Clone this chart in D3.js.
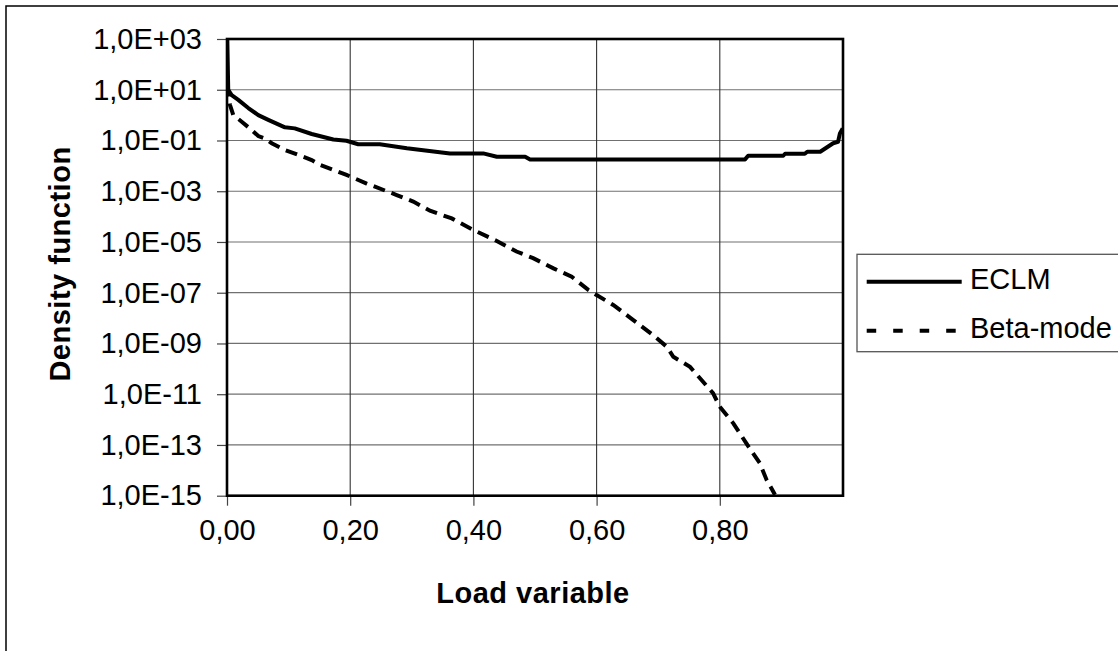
<!DOCTYPE html>
<html>
<head>
<meta charset="utf-8">
<script src="https://cdn.jsdelivr.net/npm/d3@7"></script>
<style>
  body { margin: 0; background: #fff; }
  text { font-family: Arial, "Liberation Sans", sans-serif; }
</style>
</head>
<body>
<script>
// data
const eclmX = [0.0005, 0.002, 0.0076, 0.0183, 0.0346, 0.0508, 0.067, 0.094, 0.11, 0.1375, 0.1726, 0.194, 0.213, 0.248, 0.292, 0.362, 0.416, 0.438, 0.484, 0.492, 0.841, 0.846, 0.903, 0.906, 0.938, 0.942, 0.963, 0.984, 0.992, 0.995, 0.9995];
const eclmY = [1.0e3, 9.8e0, 6.2e0, 4.0e0, 1.9e0, 1.0e0, 6.5e-1, 3.3e-1, 3.0e-1, 1.8e-1, 1.1e-1, 9.8e-2, 7.1e-2, 7.1e-2, 4.9e-2, 3.1e-2, 3.1e-2, 2.3e-2, 2.3e-2, 1.8e-2, 1.8e-2, 2.5e-2, 2.5e-2, 3.0e-2, 3.0e-2, 3.6e-2, 3.6e-2, 7.8e-2, 8.9e-2, 1.9e-1, 3.0e-1];

const betaX = [0.0008, 0.0049, 0.0102, 0.0239, 0.04, 0.0508, 0.0617, 0.0726, 0.094, 0.1157, 0.1375, 0.151, 0.194, 0.2268, 0.2755, 0.3024, 0.3295, 0.3648, 0.397, 0.438, 0.47, 0.497, 0.53, 0.5596, 0.5865, 0.6, 0.627, 0.6596, 0.692, 0.714, 0.7245, 0.7516, 0.789, 0.8, 0.822, 0.8437, 0.865, 0.876, 0.8896];
const betaY = [1.6e1, 2.5e0, 1.0e0, 5.5e-1, 2.6e-1, 1.5e-1, 1.2e-1, 7.8e-2, 4.2e-2, 2.7e-2, 1.7e-2, 1.1e-2, 4.4e-3, 2.0e-3, 7.1e-4, 3.9e-4, 1.7e-4, 8.5e-5, 3.2e-5, 1.1e-5, 4.2e-6, 2.3e-6, 9.1e-7, 4.3e-7, 1.3e-7, 8.1e-8, 3.3e-8, 8.3e-9, 2.1e-9, 7.4e-10, 3.0e-10, 1.2e-10, 1.1e-11, 3.2e-12, 7.1e-13, 1.1e-13, 1.9e-14, 4.2e-15, 1.1e-15];

const xTicks = [0, 0.2, 0.4, 0.6, 0.8];
const yTicks = [1e3, 1e1, 1e-1, 1e-3, 1e-5, 1e-7, 1e-9, 1e-11, 1e-13, 1e-15];
const seriesNames = ["ECLM", "Beta-mode"];

const W = 1118, H = 651;
const plot = { left: 227, top: 39, right: 843, bottom: 495.7 };

const x = d3.scaleLinear().domain([0, 1]).range([plot.left, plot.right]);
const y = d3.scaleLog().domain([1e-15, 1e3]).range([plot.bottom, plot.top]);

const svg = d3.select("body").append("svg")
  .attr("width", W)
  .attr("height", H);

// outer chart frame (runs off the right and bottom edge)
svg.append("rect")
  .attr("x", 6).attr("y", 6)
  .attr("width", W + 20).attr("height", H + 20)
  .attr("fill", "#fff")
  .attr("stroke", "#000")
  .attr("stroke-width", 1.5);

// grid
svg.append("g")
  .selectAll("line")
  .data(yTicks.slice(1, -1))
  .join("line")
  .attr("x1", plot.left).attr("x2", plot.right)
  .attr("y1", d => y(d)).attr("y2", d => y(d))
  .attr("stroke", "#707070")
  .attr("stroke-width", 1.2);

svg.append("g")
  .selectAll("line")
  .data(xTicks.slice(1))
  .join("line")
  .attr("x1", d => x(d)).attr("x2", d => x(d))
  .attr("y1", plot.top).attr("y2", plot.bottom)
  .attr("stroke", "#333")
  .attr("stroke-width", 1.1);

// axes
const fmtX = d => d3.format(".2f")(d).replace(".", ",");
const fmtY = d => {
  const e = Math.round(Math.log10(d));
  return "1,0E" + (e < 0 ? "-" : "+") + String(Math.abs(e)).padStart(2, "0");
};

const xAxis = svg.append("g")
  .attr("transform", "translate(0," + plot.bottom + ")")
  .call(d3.axisBottom(x).tickValues(xTicks).tickFormat(fmtX).tickSize(10).tickPadding(14));

const yAxis = svg.append("g")
  .attr("transform", "translate(" + plot.left + ",0)")
  .call(d3.axisLeft(y).tickValues(yTicks).tickFormat(fmtY).tickSize(10).tickPadding(15));

[xAxis, yAxis].forEach(function(g) {
  g.select(".domain").remove();
  g.selectAll(".tick line").attr("stroke", "#444").attr("stroke-width", 1.2);
  g.selectAll(".tick text")
    .attr("fill", "#000")
    .style("font-size", "29px")
    .style("font-family", "Arial, 'Liberation Sans', sans-serif");
});

// clip for the curves
svg.append("clipPath").attr("id", "clip")
  .append("rect")
  .attr("x", plot.left).attr("y", plot.top)
  .attr("width", plot.right - plot.left)
  .attr("height", plot.bottom - plot.top);

const line = d3.line()
  .x(d => x(d[0]))
  .y(d => y(d[1]));

svg.append("path")
  .datum(d3.zip(betaX, betaY))
  .attr("clip-path", "url(#clip)")
  .attr("d", line)
  .attr("fill", "none")
  .attr("stroke", "#000")
  .attr("stroke-width", 4)
  .attr("stroke-dasharray", "12,7");

svg.append("path")
  .datum(d3.zip(eclmX, eclmY))
  .attr("clip-path", "url(#clip)")
  .attr("d", line)
  .attr("fill", "none")
  .attr("stroke", "#000")
  .attr("stroke-width", 4)
  .attr("stroke-linejoin", "round");

// plot border
svg.append("rect")
  .attr("x", plot.left).attr("y", plot.top)
  .attr("width", plot.right - plot.left)
  .attr("height", plot.bottom - plot.top)
  .attr("fill", "none")
  .attr("stroke", "#000")
  .attr("stroke-width", 2.6);

// axis titles
svg.append("text")
  .attr("x", 533)
  .attr("y", 603)
  .attr("text-anchor", "middle")
  .style("font-size", "29px")
  .style("font-weight", "bold")
  .style("letter-spacing", "0.5px")
  .text("Load variable");

svg.append("text")
  .attr("transform", "translate(70,264)rotate(-90)")
  .attr("text-anchor", "middle")
  .style("font-size", "29px")
  .style("font-weight", "bold")
  .style("letter-spacing", "0.5px")
  .text("Density function");

// legend
const legend = svg.append("g");
legend.append("rect")
  .attr("x", 857).attr("y", 254.3)
  .attr("width", 300).attr("height", 97.4)
  .attr("fill", "#fff")
  .attr("stroke", "#555")
  .attr("stroke-width", 1.3);

const items = legend.selectAll("g.item")
  .data(seriesNames)
  .join("g")
  .attr("class", "item")
  .attr("transform", (d, i) => "translate(0," + (281.7 + i * 49) + ")");

items.append("line")
  .attr("x1", 866.7).attr("x2", 961.7)
  .attr("stroke", "#000")
  .attr("stroke-width", 4)
  .attr("stroke-dasharray", (d, i) => i === 1 ? "9.5,17" : null);

items.append("text")
  .attr("x", 970)
  .attr("y", 7.5)
  .style("font-size", "29px")
  .text(d => d);
</script>
</body>
</html>
